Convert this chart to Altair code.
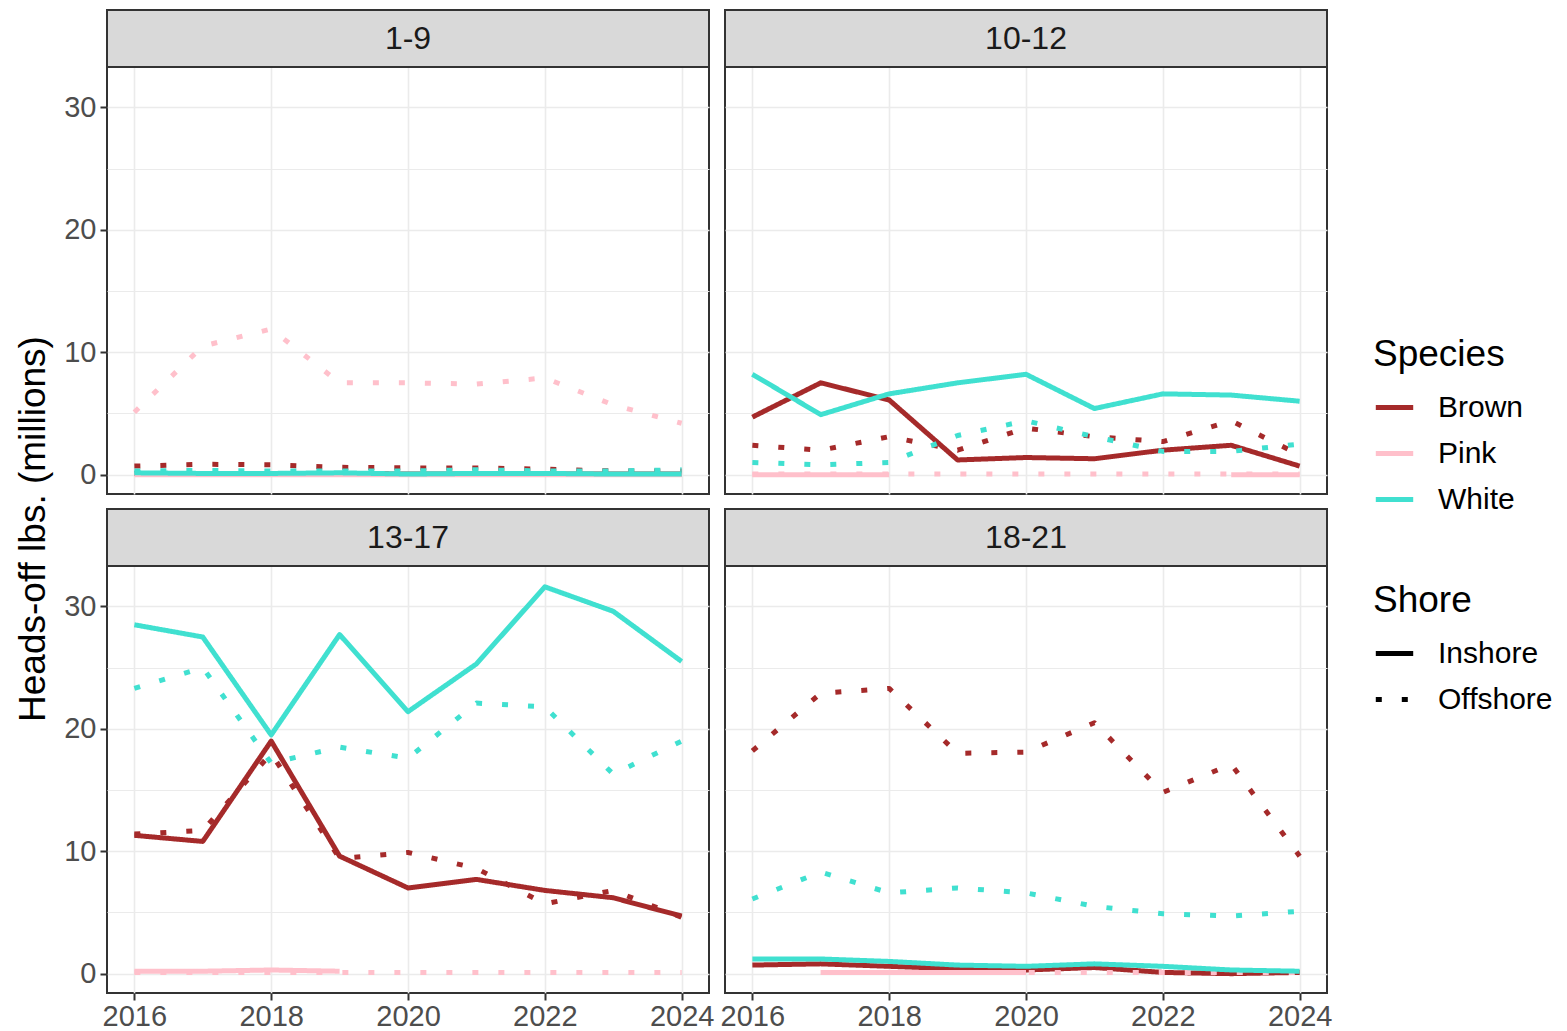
import altair as alt
import pandas as pd

years = [2016, 2017, 2018, 2019, 2020, 2021, 2022, 2023, 2024]
areas = ["1-9", "10-12", "13-17", "18-21"]
species = ["Brown", "Pink", "White"]
species_colors = ["#A52A2A", "#FFC0CB", "#40E0D0"]
shores = ["Inshore", "Offshore"]
x_ticks = [2016, 2018, 2020, 2022, 2024]
y_ticks = [0, 5, 10, 15, 20, 25, 30]

# Area 1-9
a1_brown_in = [0.1, 0.1, 0.1, 0.1, 0.05, 0.05, 0.05, 0.05, 0.05]
a1_brown_off = [0.7, 0.85, 0.8, 0.6, 0.55, 0.55, 0.45, 0.3, 0.3]
a1_pink_in = [0.0, 0.0, 0.0, 0.0, 0.0, 0.0, 0.0, 0.0, 0.0]
a1_pink_off = [5.1, 10.5, 11.9, 7.5, 7.5, 7.4, 7.9, 5.7, 4.2]
a1_white_in = [0.15, 0.1, 0.1, 0.15, 0.05, 0.1, 0.1, 0.05, 0.05]
a1_white_off = [0.3, 0.35, 0.3, 0.3, 0.3, 0.4, 0.3, 0.3, 0.4]

# Area 10-12
a2_brown_in = [4.7, 7.5, 6.1, 1.2, 1.4, 1.3, 2.0, 2.4, 0.7]
a2_brown_off = [2.4, 2.0, 3.1, 2.0, 3.8, 3.1, 2.7, 4.4, 1.6]
a2_pink_in = [0.0, 0.0, 0.0, None, None, None, None, 0.0, 0.0]
a2_pink_off = [0.05, 0.05, 0.05, 0.05, 0.05, 0.05, 0.05, 0.05, 0.05]
a2_white_in = [8.2, 4.9, 6.6, 7.5, 8.2, 5.4, 6.6, 6.5, 6.0]
a2_white_off = [1.0, 0.8, 1.0, 3.2, 4.4, 3.1, 1.9, 1.9, 2.5]

# Area 13-17
a3_brown_in = [11.3, 10.8, 19.0, 9.6, 7.0, 7.7, 6.8, 6.2, 4.7]
a3_brown_off = [11.4, 11.7, 18.0, 9.4, 9.9, 8.6, 5.7, 6.8, 4.6]
a3_pink_in = [0.2, 0.2, 0.3, 0.2, None, None, None, None, None]
a3_pink_off = [0.1, 0.1, 0.1, 0.1, 0.1, 0.1, 0.1, 0.1, 0.1]
a3_white_in = [28.5, 27.5, 19.5, 27.7, 21.4, 25.3, 31.6, 29.6, 25.5]
a3_white_off = [23.3, 25.0, 17.2, 18.5, 17.6, 22.1, 21.8, 16.3, 19.0]

# Area 18-21
a4_brown_in = [0.7, 0.8, 0.6, 0.4, 0.3, 0.5, 0.1, 0.0, 0.1]
a4_brown_off = [18.2, 22.9, 23.3, 18.0, 18.1, 20.5, 14.8, 17.1, 9.6]
a4_pink_in = [None, 0.1, 0.1, 0.1, 0.1, None, None, None, None]
a4_pink_off = [None, 0.1, 0.1, 0.1, 0.1, 0.1, 0.1, 0.1, 0.1]
a4_white_in = [1.2, 1.2, 1.0, 0.7, 0.6, 0.8, 0.6, 0.3, 0.2]
a4_white_off = [6.1, 8.3, 6.6, 7.0, 6.6, 5.5, 4.9, 4.7, 5.1]

series = {
    ("1-9", "Brown", "Inshore"): a1_brown_in,
    ("1-9", "Brown", "Offshore"): a1_brown_off,
    ("1-9", "Pink", "Inshore"): a1_pink_in,
    ("1-9", "Pink", "Offshore"): a1_pink_off,
    ("1-9", "White", "Inshore"): a1_white_in,
    ("1-9", "White", "Offshore"): a1_white_off,
    ("10-12", "Brown", "Inshore"): a2_brown_in,
    ("10-12", "Brown", "Offshore"): a2_brown_off,
    ("10-12", "Pink", "Inshore"): a2_pink_in,
    ("10-12", "Pink", "Offshore"): a2_pink_off,
    ("10-12", "White", "Inshore"): a2_white_in,
    ("10-12", "White", "Offshore"): a2_white_off,
    ("13-17", "Brown", "Inshore"): a3_brown_in,
    ("13-17", "Brown", "Offshore"): a3_brown_off,
    ("13-17", "Pink", "Inshore"): a3_pink_in,
    ("13-17", "Pink", "Offshore"): a3_pink_off,
    ("13-17", "White", "Inshore"): a3_white_in,
    ("13-17", "White", "Offshore"): a3_white_off,
    ("18-21", "Brown", "Inshore"): a4_brown_in,
    ("18-21", "Brown", "Offshore"): a4_brown_off,
    ("18-21", "Pink", "Inshore"): a4_pink_in,
    ("18-21", "Pink", "Offshore"): a4_pink_off,
    ("18-21", "White", "Inshore"): a4_white_in,
    ("18-21", "White", "Offshore"): a4_white_off,
}

rows = []
for (area, sp, sh), vals in series.items():
    seg = 0
    gap = True
    for yr, v in zip(years, vals):
        if v is None:
            gap = True
            continue
        if gap:
            seg += 1
            gap = False
        rows.append(dict(Area=area, Species=sp, Shore=sh, Year=yr, Value=v,
                         Seg=f"{area}|{sp}|{sh}|{seg}"))
df = pd.DataFrame(rows)

FONT = "Liberation Sans"
PW, PH, SH = 602, 427, 57

species_legend = alt.Legend(
    orient="none", legendX=1266, legendY=270, title="Species",
    titleFontSize=37, titleFont=FONT, titleFontWeight="normal", titleColor="black",
    titlePadding=12, labelFontSize=30, labelFont=FONT, labelColor="black",
    symbolType="stroke", symbolStrokeWidth=5, symbolSize=1400, rowPadding=9,
    labelOffset=22, padding=0)
shore_legend = alt.Legend(
    orient="none", legendX=1266, legendY=516, title="Shore",
    titleFontSize=37, titleFont=FONT, titleFontWeight="normal", titleColor="black",
    titlePadding=12, labelFontSize=30, labelFont=FONT, labelColor="black",
    symbolType="stroke", symbolStrokeWidth=5, symbolSize=1400, rowPadding=9,
    symbolStrokeColor="black", labelOffset=22, padding=0)

minor_test = "datum.value % 10 != 0"


def panel(area, show_x, show_y):
    d = df[df.Area == area]
    x_axis = alt.Axis(values=x_ticks, format="d", title=None, labels=show_x, ticks=show_x,
                      domain=False, grid=True, gridColor="#EBEBEB", gridWidth=1.6,
                      tickColor="#333333", tickSize=7, tickWidth=2,
                      labelColor="#4D4D4D", labelFontSize=29, labelFont=FONT,
                      labelPadding=2, labelFlush=False, labelOverlap=False)
    y_axis = alt.Axis(values=y_ticks, title=None, labels=show_y, ticks=show_y,
                      labelExpr="datum.value % 10 == 0 ? datum.label : ''",
                      domain=False, grid=True, gridColor="#EBEBEB",
                      gridWidth={"condition": {"test": minor_test, "value": 1.0}, "value": 1.6},
                      tickColor={"condition": {"test": minor_test, "value": "transparent"},
                                 "value": "#333333"},
                      tickSize=7, tickWidth=2,
                      labelColor="#4D4D4D", labelFontSize=29, labelFont=FONT,
                      labelPadding=4, labelOverlap=False)
    lines = alt.Chart(d).mark_line(strokeWidth=5, strokeCap="butt", strokeJoin="round").encode(
        x=alt.X("Year:Q", scale=alt.Scale(domain=[2015.6, 2024.4], nice=False, zero=False),
                axis=x_axis),
        y=alt.Y("Value:Q", scale=alt.Scale(domain=[-1.58, 33.3], nice=False, zero=False),
                axis=y_axis),
        color=alt.Color("Species:N", scale=alt.Scale(domain=species, range=species_colors),
                        legend=species_legend),
        strokeDash=alt.StrokeDash("Shore:N",
                                  scale=alt.Scale(domain=shores, range=[[1, 0], [6, 20]]),
                                  legend=shore_legend),
        detail="Seg:N",
        order="Year:Q",
    )
    sdf = pd.DataFrame({"label": [area]})
    box = alt.Chart(sdf).mark_rect(fill="#D9D9D9", stroke="#333333", strokeWidth=2).encode(
        x=alt.value(0), x2=alt.value(PW), y=alt.value(-SH), y2=alt.value(0))
    txt = alt.Chart(sdf).mark_text(fontSize=32, font=FONT, color="#1A1A1A",
                                   baseline="middle", align="center").encode(
        text="label:N", x=alt.value(PW / 2), y=alt.value(-SH / 2))
    return alt.layer(lines, box, txt).properties(width=PW, height=PH)


chart = alt.concat(
    panel("1-9", False, True), panel("10-12", False, False),
    panel("13-17", True, True), panel("18-21", True, False),
    columns=2, spacing={"row": 15 + SH, "column": 16}, bounds="flush",
).properties(
    title=alt.TitleParams(text="Heads-off lbs. (millions)", orient="left", anchor="middle",
                          fontSize=37, font=FONT, fontWeight="normal", color="black",
                          offset=10, dx=-9),
    padding={"left": 6, "top": 0, "right": 5, "bottom": 2},
    background="white",
).configure_view(stroke="#333333", strokeWidth=2)

chart.save("out.html", embed_options={"renderer": "svg", "actions": False})
